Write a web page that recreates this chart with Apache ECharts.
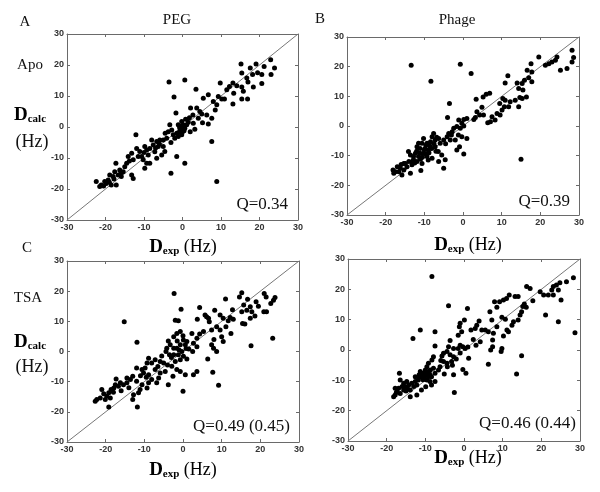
<!DOCTYPE html>
<html>
<head>
<meta charset="utf-8">
<script src="https://cdn.jsdelivr.net/npm/echarts@6/dist/echarts.min.js"></script>
<style>
  html, body { margin: 0; padding: 0; background: #fff; }
  #main { width: 600px; height: 492px; }
</style>
</head>
<body>
<div id="main"></div>
<script>
// tick values shared by every axis
const ticks = [-30, -20, -10, 0, 10, 20, 30];
const diag = [[-30, -30], [30, 30]];

const panelNames = ['A', 'B', 'C', ''];
const conditions = ['PEG', 'Phage'];
const rowNames = ['Apo', 'TSA'];
const qValues = ['Q=0.34', 'Q=0.39', 'Q=0.49 (0.45)', 'Q=0.46 (0.44)'];

// A: PEG / Apo  [Dexp, Dcalc]
const dataA = [
  [-3.5,14.5],[0.6,15.2],[-2.2,9.7],[3.5,12.2],[7.6,-4.7],[8.9,-17.6],[-3.0,-14.9],[-1.5,-9.5],[0.6,-11.7],[-12.1,-2.5],[-1.7,4.5],
  [15.2,20.3],[19.1,20.3],[22.9,21.7],[21.2,19.5],[23.9,19.0],[23.0,16.9],[20.6,16.9],[17.6,19.0],[16.7,15.8],[15.4,17.4],[18.2,16.9],
  [14.1,13.3],[15.4,12.9],[18.4,12.9],[20.6,14.0],[13.1,14.2],[15.4,9.0],[16.9,9.0],[15.8,11.5],[13.3,10.9],
  [9.8,14.2],[12.2,13.1],[10.2,9.0],[9.3,9.8],[8.0,8.2],[6.7,10.4],[5.4,9.3],[10.9,9.0],[8.9,7.2],[13.1,7.4],
  [6.3,3.9],[7.6,2.8],[5.0,4.2],[3.7,6.1],[2.7,3.9],[4.1,2.8],[5.2,1.4],[6.7,1.0],[2.1,6.1],[2.8,1.2],[3.2,-0.7],[2.0,-1.5],[1.1,0.7],
  [-1.1,0.7],[-0.7,-0.4],[0.0,-1.5],[-0.2,-2.5],[-1.5,-2.0],[-2.4,-2.5],[-3.3,0.7],[-3.7,-1.5],[-4.1,-3.6],[-5.0,-4.2],[-5.9,-4.2],
  [-6.7,-4.7],[-6.3,-6.3],[-7.6,-5.8],[-8.0,-4.2],[-8.5,-6.9],[-9.3,-7.4],[-9.8,-6.3],[-8.9,-9.0],[-6.7,-10.1],[-5.4,-9.0],[-5.0,-6.3],
  [-4.6,-7.9],[-2.0,-3.6],[-1.1,-3.1],[0.6,-0.4],[0.2,0.7],[-0.2,1.8],[0.8,2.5],[-0.5,-1.0],[1.5,1.5],[-2.8,-1.0],
  [-11.9,-6.9],[-11.1,-7.9],[-11.5,-9.5],[-10.6,-9.5],[-12.8,-10.6],[-13.2,-8.5],[-14.1,-9.5],[-14.5,-11.7],[-15.0,-12.8],[-15.4,-14.4],
  [-16.3,-13.9],[-16.7,-15.5],[-17.3,-11.7],[-17.6,-14.4],[-18.0,-16.0],[-18.9,-15.5],[-19.3,-17.1],[-19.8,-18.2],[-20.2,-17.6],
  [-21.1,-18.7],[-21.5,-19.2],[-22.4,-17.6],[-18.5,-18.7],[-17.2,-18.7],[-15.9,-16.0],[-13.2,-15.5],[-12.8,-16.6],[-9.8,-13.3],
  [-9.3,-11.7],[-8.5,-11.7],[-10.2,-10.6],[-7.2,-8.0],[-3.0,-5.0],[-4.5,-2.0],[-20.5,-19.0],[-19.0,-17.8],[-16.0,-14.8],
  [-0.3,-0.2],[0.4,-1.2],[-1.0,-1.8],[-0.8,0.3],[1.8,3.0],[4.5,5.0],[-6.0,-5.5],[-7.0,-6.8],[-10.0,-8.2],[-13.8,-11.0],[-17.8,-16.8],
  [11.5,12.0],[17.0,14.5],[19.5,17.5],[8.5,5.5]
];

// B: Phage / Apo
const dataB = [
  [-13.4,20.5],[-0.7,20.8],[2.1,17.7],[-8.3,15.1],[-3.5,7.6],[-4.0,2.9],[15.0,-11.2],[3.4,9.0],
  [28.2,25.5],[28.6,23.1],[28.2,21.6],[26.9,19.4],[25.2,18.8],[24.3,23.3],[23.9,22.2],[23.0,21.6],[22.2,21.0],[21.3,20.5],[19.6,23.3],
  [17.6,21.0],[17.8,18.2],[17.0,16.3],[17.8,14.9],[16.6,18.8],[15.9,15.4],[15.3,14.3],[14.0,14.5],[11.6,16.9],[10.9,14.5],[14.4,12.6],
  [15.5,12.1],[16.4,9.8],[15.3,9.3],[14.7,9.6],[14.4,6.5],
  [13.5,8.7],[12.2,8.2],[10.9,8.7],[10.3,9.3],[9.5,7.6],[10.7,6.5],[11.8,6.5],[10.1,5.4],[8.8,4.2],[7.5,3.1],[7.1,1.4],[6.4,1.1],
  [8.3,2.0],[9.6,3.7],[6.9,11.0],[6.0,10.7],[5.2,9.8],[4.9,6.3],[3.6,4.8],[4.3,3.7],[3.2,2.9],[2.8,2.2],[5.3,3.7],[0.2,2.2],[1.0,2.5],
  [-1.1,2.0],[-0.3,0.9],[0.2,0.0],[-0.7,-0.8],[-1.6,-0.2],
  [-2.4,-0.8],[-2.8,-1.9],[-3.7,-2.5],[-4.1,-3.6],[-3.3,-4.7],[-2.0,-4.7],[-1.2,-3.0],[-0.3,-3.6],[1.0,-4.2],[-0.9,-7.0],[0.2,-9.4],
  [-1.6,-8.1],[-5.0,-4.7],[-5.9,-5.8],[-6.3,-4.2],[-7.2,-4.7],[-7.6,-2.5],[-8.0,-3.6],[-8.4,-5.3],[-9.3,-5.8],[-10.2,-4.2],[-10.6,-5.8],
  [-11.5,-5.8],[-11.9,-7.0],[-11.1,-7.6],[-9.8,-7.6],[-9.0,-8.1],[-8.1,-7.6],[-7.2,-7.0],[-6.4,-8.6],[-5.5,-9.8],[-5.0,-14.2],[-4.6,-11.4],
  [-6.3,-12.0],[-8.0,-10.9],[-9.3,-10.3],[-10.2,-9.2],[-11.1,-9.2],[-12.3,-9.2],[-12.8,-10.3],[-13.6,-9.8],[-14.1,-8.6],[-10.9,-15.0],
  [-10.6,-12.6],[-11.9,-12.0],[-13.2,-13.1],[-13.6,-15.9],[-14.5,-13.7],[-14.9,-12.6],[-15.3,-14.8],[-16.2,-14.2],[-16.6,-15.4],
  [-15.8,-16.5],[-17.5,-15.4],[-17.9,-15.9],[-18.1,-14.8],[-17.0,-13.7],[-15.3,-12.6],[-12.8,-11.4],[-11.5,-10.3],
  [-9.6,-6.5],[-8.8,-9.0],[-10.0,-8.0],[-7.5,-6.0],[-12.0,-8.5],[-14.0,-12.0],[-16.0,-13.0],[-9.0,-11.5],
  [-10.5,-10.5],[-9.5,-9.5],[-8.5,-6.8],[-11.0,-11.2],[-12.5,-12.5],[-7.0,-8.5],[-13.0,-11.8],[-4.5,-6.0],[-3.0,-3.0],[-6.8,-3.8]
];

// C: PEG / TSA
const dataC = [
  [-2.3,19.2],[-15.2,9.9],[-0.5,14.0],[-11.9,3.1],[-11.8,-18.4],[0.0,-13.2],[9.2,-11.2],[17.6,1.9],[23.2,4.4],[7.7,-6.9],[6.4,-2.5],
  [11.0,17.4],[8.2,13.7],
  [15.2,19.5],[14.6,18.1],[16.7,17.3],[21.0,19.2],[21.5,18.1],[23.4,17.0],[23.8,17.9],[22.7,15.9],[18.9,16.5],[17.4,14.8],[16.5,13.7],
  [15.7,15.4],[15.2,13.2],[17.8,13.2],[18.6,11.8],[20.9,13.2],[21.6,13.2],[17.4,11.0],[15.4,9.3],[16.0,9.1],[12.2,11.3],[13.0,10.7],
  [11.7,10.2],[10.4,11.0],[9.6,12.1],[11.1,8.2],[12.4,6.0],[9.6,7.1],[10.0,4.9],[10.4,3.3],[8.7,8.2],[7.4,7.1],[6.8,9.9],[6.1,11.5],
  [5.7,12.1],[6.6,11.0],[4.3,14.6],[3.7,10.7],[5.3,6.6],[4.3,5.8],[3.6,4.4],[2.3,6.0],[2.7,2.7],[3.6,1.6],[2.5,0.0],[2.7,-7.7],
  [3.6,-6.6],[7.4,2.2],[7.9,1.1],[8.7,0.0],
  [-2.0,10.4],[-1.2,10.2],[-2.4,4.9],[-1.6,6.0],[-0.7,6.6],[0.0,5.2],[0.1,3.8],[1.0,3.3],[0.6,2.2],[-0.7,2.2],[-1.6,1.1],[-2.4,1.1],
  [-3.3,2.2],[-4.2,1.1],[-4.4,0.0],[-3.5,-1.1],[-2.4,-1.1],[-1.2,-1.1],[-0.3,0.0],[0.1,-1.6],[-0.7,-2.7],[-2.0,-3.3],[-2.9,-4.9],
  [-1.6,-6.0],[-0.7,-6.6],[0.6,-7.7],[-2.6,-8.2],[-3.8,-11.0],[-4.6,-6.6],[-5.9,-7.1],[-6.3,-8.8],[-6.8,-10.4],[-5.0,-3.8],[-5.9,-3.3],
  [-7.2,-2.7],[-8.1,-3.8],[-8.9,-2.2],[-9.3,-3.8],[-9.8,-5.5],[-10.6,-6.0],[-10.2,-7.1],[-8.9,-7.7],[-8.1,-9.3],[-8.9,-10.4],[-9.3,-12.1],
  [-10.6,-11.0],[-11.5,-13.7],[-11.1,-12.6],[-12.8,-14.3],[-13.0,-15.9],[-12.0,-9.9],[-12.0,-5.5],[-13.0,-8.2],[-13.6,-9.3],[-14.5,-10.4],
  [-15.4,-11.0],[-16.2,-10.4],[-16.7,-11.5],[-17.5,-11.0],[-17.9,-12.1],[-18.6,-12.6],[-19.2,-13.7],[-19.7,-14.8],[-18.8,-15.4],
  [-20.1,-15.9],[-21.0,-12.6],[-21.4,-15.4],[-22.3,-15.9],[-22.7,-16.5],[-19.2,-18.4],[-17.3,-9.1],[-14.5,-8.8],[-7.2,-6.0],
  [-3.0,-2.0],[-1.0,0.5],[1.5,0.8],[-4.0,-4.5],[-6.5,-5.0],[-11.0,-8.0],[-16.0,-13.0],[-18.0,-13.5],[1.0,-2.5],
  [-1.5,3.5],[0.8,1.0],[-3.8,3.5],[-5.5,-1.5],[-9.5,-8.5],[-14.0,-12.0],[-20.5,-14.0],[12.8,13.8],[19.5,15.0],[8.0,4.0]
];

// D: Phage / TSA
const dataD = [
  [-8.3,24.2],[-4.0,14.6],[0.9,13.7],[-13.2,3.8],[-11.3,6.6],[-7.5,6.0],[-5.1,-7.9],[-2.5,-14.0],[6.3,-4.7],[14.9,-1.9],[13.6,-7.9],
  [28.7,5.7],[24.4,9.3],[21.1,11.5],
  [28.3,23.8],[26.5,22.5],[24.8,22.2],[23.9,21.4],[23.1,20.9],[24.4,19.8],[22.7,19.8],[23.1,18.1],[21.8,18.1],[19.7,19.2],[20.6,18.1],
  [25.1,16.5],[16.2,20.9],[17.1,20.3],[17.8,16.2],[15.6,15.2],[15.2,14.3],[16.1,14.1],[14.9,12.6],[14.5,11.5],[14.0,9.9],[14.0,17.6],
  [13.2,17.6],[11.7,18.1],[11.0,17.0],[10.2,16.5],[9.2,15.9],[7.9,15.9],[8.5,14.1],[6.7,12.6],[9.8,10.8],[10.7,10.1],[12.8,9.3],
  [12.4,8.2],[11.1,6.6],[11.5,6.0],[10.2,4.6],[7.2,9.9],[8.5,7.7],[7.6,5.5],[6.3,6.0],[5.5,6.6],[4.6,6.6],[3.9,9.6],[3.3,8.2],[2.9,7.1],
  [4.2,2.7],[3.1,1.6],[2.4,3.5],[1.8,6.6],[7.4,1.1],[6.9,0.0],[9.8,0.5],[9.6,-0.5],[7.4,3.3],
  [0.1,9.9],[-1.0,8.8],[-1.2,7.7],[-0.6,6.0],[-1.5,4.9],[-1.0,1.6],[-0.3,1.1],[0.3,0.5],[-1.5,0.5],[1.2,-2.7],[-0.3,-6.4],[0.5,-7.7],
  [-2.7,0.5],[-3.6,3.1],[-4.0,1.1],[-4.4,-0.5],[-5.3,-1.1],[-5.7,-2.0],[-3.6,-1.6],[-2.7,-2.2],[-3.2,-3.8],[-4.4,-4.4],[-4.3,-5.5],
  [-2.7,-8.2],[-5.3,-3.8],[-6.2,-5.5],[-6.6,-6.6],[-7.5,1.3],[-7.9,-2.2],[-8.3,-3.3],[-9.2,-4.4],[-9.6,-5.5],[-10.0,-6.6],[-8.7,-6.6],
  [-7.9,-6.0],[-7.5,-7.7],[-9.2,-7.7],[-10.5,-7.7],[-10.9,-8.8],[-11.3,-7.1],[-8.4,-8.8],[-7.5,-10.4],[-8.4,-11.5],[-9.9,-12.1],
  [-11.0,-13.2],[-12.2,-14.8],[-13.9,-13.2],[-13.9,-15.4],[-12.2,-11.5],[-12.6,-10.4],[-13.5,-11.0],[-14.3,-11.5],[-14.8,-10.4],
  [-15.2,-12.1],[-15.6,-13.2],[-16.5,-14.3],[-16.9,-12.6],[-17.3,-13.7],[-17.8,-14.8],[-18.2,-15.4],[-17.8,-12.6],[-16.7,-7.7],
  [-16.5,-9.9],[-15.6,-11.0],[-12.6,-8.8],[-11.8,-9.9],[-8.8,-10.4],[-9.6,-9.9],[-10.3,-9.3],[-9.2,-8.8],
  [-10.0,-7.5],[-9.5,-8.2],[-10.8,-8.0],[-9.0,-7.0],[-11.5,-9.0],[-6.0,-3.5],[-3.0,-5.0],[1.0,1.0],[-17.5,-14.0],[-15.0,-13.5],
  [-10.2,-8.5],[-9.8,-7.2],[-8.9,-8.0],[-10.6,-9.8],[-11.6,-8.2],[-13.0,-12.0],[-14.6,-12.8],[-16.0,-12.0],[-2.0,-3.0],[-1.0,-1.0]
];

const panels = [dataA, dataB, dataC, dataD];
const grids = [
  { left: 67, top: 34, width: 231, height: 186 },
  { left: 347, top: 37, width: 232, height: 178 },
  { left: 67, top: 261, width: 232, height: 181 },
  { left: 348, top: 259, width: 232, height: 182 }
];

const axisLine = { show: true, onZero: false, lineStyle: { color: '#6a6a6a', width: 1 } };
const tickStyle = { show: true, inside: true, length: 3, lineStyle: { color: '#6a6a6a' } };
const labelStyle = { color: '#333', fontSize: 9, fontWeight: 'bold', fontFamily: 'Liberation Sans, Arial' };

let xAxes = [], yAxes = [], series = [];
panels.forEach(function (d, i) {
  xAxes.push({ gridIndex: i, type: 'value', min: -30, max: 30, interval: 10, position: 'bottom',
    axisLine: axisLine, axisTick: tickStyle, splitLine: { show: false },
    axisLabel: Object.assign({ margin: 3 }, labelStyle) });
  xAxes.push({ gridIndex: i, type: 'value', min: -30, max: 30, interval: 10, position: 'top',
    axisLine: axisLine, axisTick: tickStyle, splitLine: { show: false }, axisLabel: { show: false } });
  yAxes.push({ gridIndex: i, type: 'value', min: -30, max: 30, interval: 10, position: 'left',
    axisLine: axisLine, axisTick: tickStyle, splitLine: { show: false },
    axisLabel: Object.assign({ margin: 3 }, labelStyle) });
  yAxes.push({ gridIndex: i, type: 'value', min: -30, max: 30, interval: 10, position: 'right',
    axisLine: axisLine, axisTick: tickStyle, splitLine: { show: false }, axisLabel: { show: false } });

  series.push({ type: 'line', xAxisIndex: i * 2, yAxisIndex: i * 2, data: diag, symbol: 'none',
    silent: true, lineStyle: { color: '#777', width: 1 }, z: 1 });
  series.push({ type: 'scatter', xAxisIndex: i * 2, yAxisIndex: i * 2, data: d, symbolSize: 5,
    itemStyle: { color: '#000', opacity: 1 }, z: 2 });
});

const serif = 'Liberation Serif, Times New Roman, serif';
const dexpRich = {
  d: { fontFamily: serif, fontSize: 19, fontWeight: 'bold', color: '#111' },
  s: { fontFamily: serif, fontSize: 11, fontWeight: 'bold', color: '#111', padding: [9, 0, 0, 0] },
  h: { fontFamily: serif, fontSize: 18, color: '#111' }
};
function txt(x, y, text, size, align, bold) {
  return { type: 'text', x: x, y: y, style: { text: text, fontFamily: serif, fontSize: size,
    fontWeight: bold ? 'bold' : 'normal', fill: '#111', align: align || 'center', verticalAlign: 'middle' } };
}
function dexp(x, y) {
  return { type: 'text', x: x, y: y, style: { text: '{d|D}{s|exp}{h| (Hz)}', rich: dexpRich,
    align: 'center', verticalAlign: 'middle' } };
}
function dcalc(x, y) {
  return { type: 'text', x: x, y: y, style: { text: '{d|D}{s|calc}', rich: dexpRich,
    align: 'left', verticalAlign: 'middle' } };
}

const graphics = [
  txt(25, 22, panelNames[0], 15), txt(177, 20, conditions[0], 15),
  txt(320, 19, panelNames[1], 15), txt(457, 20, conditions[1], 15),
  txt(27, 248, panelNames[2], 15),
  txt(30, 65, rowNames[0], 15), txt(28, 298, rowNames[1], 15),
  dcalc(14, 115), txt(32, 142, '(Hz)', 18),
  dcalc(14, 342), txt(32, 367, '(Hz)', 18),
  dexp(183, 247), dexp(468, 245), dexp(183, 470), dexp(468, 458),
  txt(288, 205, qValues[0], 17, 'right'), txt(570, 202, qValues[1], 17, 'right'),
  txt(290, 427, qValues[2], 17, 'right'), txt(576, 424, qValues[3], 17, 'right')
];

const chart = echarts.init(document.getElementById('main'));
chart.setOption({
  animation: false,
  backgroundColor: '#fff',
  grid: grids,
  xAxis: xAxes,
  yAxis: yAxes,
  series: series,
  graphic: graphics
});
</script>
</body>
</html>
